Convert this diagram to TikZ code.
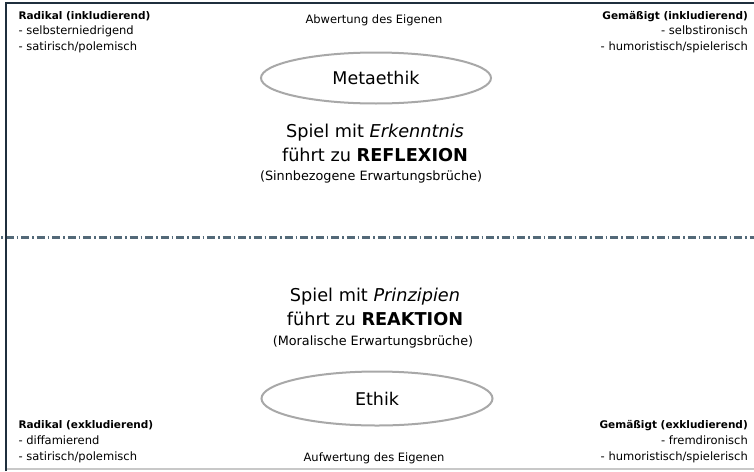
\documentclass[tikz,border=0pt]{standalone}
\usepackage{fontspec}
\setmainfont{DejaVu Sans}
\usetikzlibrary{shapes.geometric}
\definecolor{frameline}{HTML}{1F2F3D}
\definecolor{dashcol}{HTML}{536978}
\definecolor{ellcol}{HTML}{A8A8A8}
\definecolor{basecol}{HTML}{C8C8C8}
\begin{document}
\begin{tikzpicture}[x=1pt,y=-1pt,
  corner/.style={inner sep=0pt,font=\fontsize{11.5}{13}\selectfont},
  cornerhead/.style={inner sep=0pt,font=\fontsize{10.5}{13}\selectfont\bfseries},
  midlabel/.style={inner sep=0pt,anchor=base,font=\fontsize{11.5}{14}\selectfont},
  bigline/.style={inner sep=0pt,anchor=base,font=\fontsize{17.7}{20}\selectfont},
  subline/.style={inner sep=0pt,anchor=base,font=\fontsize{12.8}{14}\selectfont},
  oval/.style={ellipse,draw=ellcol,line width=2pt,fill=white,inner sep=0pt,font=\fontsize{17.5}{20}\selectfont},
  frame/.style={draw=frameline,line width=2pt},
  baseline rule/.style={draw=basecol,line width=1.5pt},
  divider/.style={draw=dashcol,line width=2.6pt,dash pattern=on 8pt off 3pt on 1.5pt off 3pt,dash phase=10pt}
]
\useasboundingbox (0,0) rectangle (754,471);
\fill[white] (0,0) rectangle (754,471);
% frame coordinates
\coordinate (ftl) at (5.5,2.5);
\coordinate (ftr) at (754,2.5);
\coordinate (fbl) at (5.5,471);
\coordinate (bbl) at (5.5,469);
\coordinate (bbr) at (754,469);
\coordinate (dl) at (0,237.7);
\coordinate (dr) at (754,237.7);
\draw[baseline rule] (bbl) -- (bbr);
\draw[divider] (dl) -- (dr);
\draw[frame] (fbl) -- (ftl) -- (ftr);

% ellipses
\node[oval,minimum width=230pt,minimum height=51pt] (meta) at (376,78) {Metaethik};
\node[oval,minimum width=231pt,minimum height=54pt] (ethik) at (377,398.5) {Ethik};

% top middle
\node[midlabel] (abw) at (374,23.5) {Abwertung des Eigenen};
\node[bigline] (t1) at (375,137.3) {Spiel mit \textit{Erkenntnis}};
\node[bigline] (t2) at (375,161) {führt zu \textbf{REFLEXION}};
\node[subline] (t3) at (371,180.5) {(Sinnbezogene Erwartungsbrüche)};

% bottom middle
\node[bigline] (b1) at (375,301.5) {Spiel mit \textit{Prinzipien}};
\node[bigline] (b2) at (375,325.5) {führt zu \textbf{REAKTION}};
\node[subline] (b3) at (373,345.5) {(Moralische Erwartungsbrüche)};
\node[midlabel] (auf) at (374,461) {Aufwertung des Eigenen};

% top left
\node[cornerhead,anchor=base west] (rl1) at (18.3,19) {Radikal (inkludierend)};
\node[corner,anchor=base west] (rl2) at (18.3,34.5) {- selbsterniedrigend};
\node[corner,anchor=base west] (rl3) at (18.3,50) {- satirisch/polemisch};

% top right
\node[cornerhead,anchor=base east] (gr1) at (748,19) {Gemäßigt (inkludierend)};
\node[corner,anchor=base east] (gr2) at (748,34.5) {- selbstironisch};
\node[corner,anchor=base east] (gr3) at (748,50) {- humoristisch/spielerisch};

% bottom left
\node[cornerhead,anchor=base west] (rx1) at (18.3,428.5) {Radikal (exkludierend)};
\node[corner,anchor=base west] (rx2) at (18.3,444.5) {- diffamierend};
\node[corner,anchor=base west] (rx3) at (18.3,460.5) {- satirisch/polemisch};

% bottom right
\node[cornerhead,anchor=base east] (gx1) at (748,428.5) {Gemäßigt (exkludierend)};
\node[corner,anchor=base east] (gx2) at (748,444.5) {- fremdironisch};
\node[corner,anchor=base east] (gx3) at (748,460.5) {- humoristisch/spielerisch};
\end{tikzpicture}
\end{document}
